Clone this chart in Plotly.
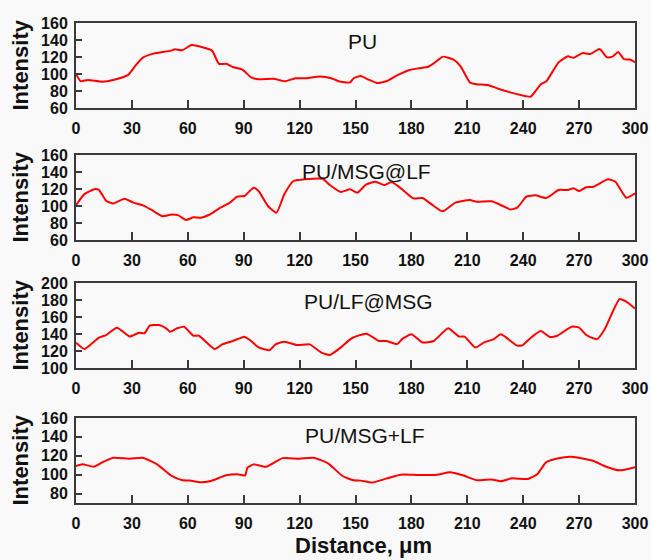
import plotly.graph_objects as go
from plotly.subplots import make_subplots

# ---- data ----
pu_x = [0, 2.5, 6.4, 14, 20, 28, 32, 35.7, 41.6, 51, 53, 57, 62, 67, 73, 76.7, 80.6, 84.5, 89.4, 94,
        98, 106, 112, 117.7, 123.6, 131, 137, 141, 147, 149, 152.8, 156.7, 161.6, 166.5, 172, 179, 184,
        189, 192, 196.8, 202.6, 206.5, 211.4, 215, 221, 227, 238.7, 244, 249.5, 252.4, 259, 264, 267,
        272, 276, 281, 285, 288, 291, 294, 297.3, 300]
pu_y = [100, 91.4, 93, 91, 93, 99, 110, 119, 124, 127.5, 129, 128, 134, 132, 127.5, 112, 112, 108, 105, 96,
        93.7, 94.5, 91.4, 95, 95, 97, 95, 91.4, 90, 95, 97.6, 93.7, 89.4, 91.4, 98, 104.7, 106.7,
        108.6, 112.5, 120.4, 116.9, 108.6, 90, 88, 87, 82.4, 75.3, 73.3, 88, 91.4, 113.7, 120.8, 119,
        124.7, 123.5, 129.4, 119.6, 120.4, 126, 117.6, 117, 113.7]

msg_lf_x = [0, 4.5, 10.3, 12.3, 16.2, 20, 26, 30.8, 35.7, 40.6, 46.5, 51.3, 55, 59, 63, 67, 71.8, 76.7,
            82.6, 86.5, 90.4, 95.3, 98, 103, 107.6, 111.8, 116.7, 122.6, 132.3, 136.2, 142, 147, 151,
            155.8, 160.7, 165.5, 169.4, 175, 181, 186, 192, 196.8, 203.6, 211.4, 215, 223, 229, 233,
            236.8, 241.7, 246.6, 252.4, 259, 264, 267, 270, 273.8, 277.7, 285.5, 289.5, 295.3, 300]
msg_lf_y = [101, 114, 120, 119, 106, 103, 108.6, 104, 101, 95.3, 88, 90, 89, 83.5, 86.7, 86.3, 90, 97,
            104, 111, 111.8, 121.6, 117.6, 100, 92.2, 113.7, 129.4, 131.4, 132, 124.7, 116.5, 119.6, 115.7,
            125.5, 128.6, 124.7, 128.2, 119.6, 109, 109.4, 100, 93.7, 104, 107, 105, 105.5, 100, 96,
            98, 111, 112.5, 109.4, 118.8, 118.8, 121, 117.6, 122, 122.7, 131.4, 128.6, 109.8, 115]

lf_msg_x = [0, 4.5, 8.4, 12.3, 16.2, 22, 28.9, 33.8, 36.7, 39.6, 44.5, 48.4, 50.4, 54.3, 58, 63, 66, 74.4,
            78.7, 84.5, 90.4, 93.3, 98, 104, 107, 111.8, 118.7, 125.5, 131.4, 136.2, 142, 148, 155.8,
            162.6, 166.5, 172.4, 175, 180, 186, 192, 199.7, 205.6, 208.5, 214.3, 219, 224, 228, 236.8,
            239.7, 244.6, 249.5, 254.3, 258.3, 266, 270, 273.8, 279.6, 283.5, 288.4, 291.7, 295.3, 300]
lf_msg_y = [129.8, 122.4, 128.6, 135.7, 138.8, 147.5, 137, 141.6, 140.8, 149.8, 150.6, 146.7, 142.7, 146.7,
            148.6, 138, 138, 122.4, 128, 132, 136.9, 133, 124.3, 121, 127.8, 131, 127, 127.8, 118.4, 115.3,
            124, 135, 140.4, 131.8, 131.8, 128.2, 134, 139.6, 130, 131.8, 146.7, 137, 137, 124, 130.2,
            133.7, 139.6, 126.3, 127, 136.5, 143.5, 136.5, 138, 148.6, 147.5, 138.8, 134, 144.7, 168,
            181, 178, 170]

msg_plus_lf_x = [0, 3.5, 9.4, 14.3, 20, 28.9, 35.7, 43.5, 51.3, 57.2, 61, 67, 71.8, 80.6, 86.5, 90.8, 92,
                 95.3, 102, 110.9, 119.7, 127.5, 135.3, 143, 149, 152.8, 158.7, 166.5, 174.3, 184, 193.8,
                 200.7, 207.5, 215.3, 223, 228, 233.8, 242.5, 247.5, 252.4, 258.3, 266, 277.7, 284.6,
                 291.5, 300]
msg_plus_lf_y = [109, 111, 108.4, 113.3, 117.9, 116.8, 117.9, 110.9, 98.6, 94, 93.7, 91.9, 93, 99.3, 100.4,
                 99.3, 107.4, 110.9, 108.4, 117.5, 116.8, 117.9, 112, 98.6, 94, 93.7, 91.6, 95.8, 100,
                 99.6, 100, 102.5, 99.3, 94, 95, 93, 96.1, 95.4, 100.4, 113.3, 117.2, 119, 114.4, 108.4,
                 104.6, 108]

labels = ["PU", "PU/MSG@LF", "PU/LF@MSG", "PU/MSG+LF"]
x_ticks = [0, 30, 60, 90, 120, 150, 180, 210, 240, 270, 300]
y_ranges = [[60, 160], [60, 160], [100, 200], [70, 160]]
y_ticks = [[60, 80, 100, 120, 140, 160], [60, 80, 100, 120, 140, 160],
           [100, 120, 140, 160, 180, 200], [80, 100, 120, 140, 160]]

series = [(pu_x, pu_y), (msg_lf_x, msg_lf_y), (lf_msg_x, lf_msg_y), (msg_plus_lf_x, msg_plus_lf_y)]

# ---- layout geometry (pixels) ----
W, H = 651, 560
panel_px = [(23, 108), (155, 240), (283, 368), (418, 503)]   # top, bottom
label_px = [(362.5, 41.5), (366.5, 171), (368.5, 301.5), (364.5, 435.5)]
FONT = "Liberation Sans, Arial, Helvetica, sans-serif"
AXC = "#3a3a3a"
BG = "#f9f9f9"

fig = make_subplots(rows=4, cols=1)

for i, (xs, ys) in enumerate(series):
    fig.add_trace(go.Scatter(x=xs, y=ys, mode="lines",
                             line=dict(color="#ff0000", width=2, shape="spline", smoothing=0.5),
                             showlegend=False, hoverinfo="skip"), row=i + 1, col=1)

L, R = 76, 635
for i in range(4):
    top, bot = panel_px[i]
    n = "" if i == 0 else str(i + 1)
    fig.layout["xaxis" + n].update(
        domain=[L / W, R / W], range=[0, 300], tickvals=x_ticks,
        ticks="inside", ticklen=8, tickwidth=1.5, tickcolor=AXC,
        showline=True, linecolor=AXC, linewidth=2, mirror=True,
        showgrid=False, zeroline=False, automargin=False,
        ticklabelstandoff=5,
        tickfont=dict(family=FONT, size=16, color="#111111", weight="bold"))
    fig.layout["yaxis" + n].update(
        domain=[1 - bot / H, 1 - top / H], range=y_ranges[i], tickvals=y_ticks[i],
        ticks="inside", ticklen=6, tickwidth=1.5, tickcolor=AXC,
        showline=True, linecolor=AXC, linewidth=2, mirror=True,
        showgrid=False, zeroline=False, automargin=False,
        ticklabelstandoff=3,
        tickfont=dict(family=FONT, size=16, color="#111111", weight="bold"))
    # series label
    lx, ly = label_px[i]
    fig.add_annotation(text=labels[i], x=lx / W, y=1 - ly / H, xref="paper", yref="paper",
                       showarrow=False, xanchor="center", yanchor="middle",
                       font=dict(family=FONT, size=21, color="#111111"))
    # y-axis title
    fig.add_annotation(text="Intensity", x=20 / W, y=1 - (top + bot) / 2 / H, xref="paper", yref="paper",
                       showarrow=False, textangle=-90, xanchor="center", yanchor="middle",
                       font=dict(family=FONT, size=22, color="#111111", weight="bold"))

fig.add_annotation(text="Distance, μm", x=363 / W, y=1 - 545 / H, xref="paper", yref="paper",
                   showarrow=False, xanchor="center", yanchor="middle",
                   font=dict(family=FONT, size=22, color="#111111", weight="bold"))

fig.update_layout(width=W, height=H, margin=dict(l=0, r=0, t=0, b=0),
                  paper_bgcolor=BG, plot_bgcolor=BG, showlegend=False)

fig.write_html("out.html", config={"displayModeBar": False})
